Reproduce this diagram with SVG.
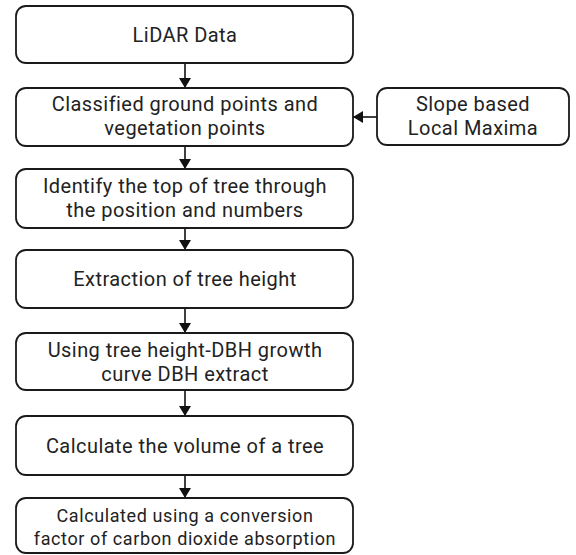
<svg xmlns="http://www.w3.org/2000/svg" width="576" height="555" viewBox="0 0 576 555">
  <style>
    .box { fill: #ffffff; stroke: #1a1a1a; stroke-width: 1.8; }
    .lbl { font-family: Roboto, "Noto Sans", sans-serif; font-size: 20px; letter-spacing: 0.45px; fill: #222222; text-anchor: middle; }
    .sm { font-size: 18px; letter-spacing: 0.6px; }
    .edge { stroke: #111111; stroke-width: 1.6; fill: none; marker-end: url(#head); }
  </style>
  <defs>
    <marker id="head" viewBox="0 0 10 12" refX="10" refY="6" markerWidth="10" markerHeight="12" markerUnits="userSpaceOnUse" orient="auto">
      <path d="M0,0 L10,6 L0,12 Z" fill="#111111"/>
    </marker>
  </defs>
  <rect width="576" height="555" fill="#ffffff"/>

  <g id="connectors">
    <line class="edge" x1="185" y1="63" x2="185" y2="88"/>
    <line class="edge" x1="185" y1="146" x2="185" y2="169"/>
    <line class="edge" x1="185" y1="228" x2="185" y2="250"/>
    <line class="edge" x1="185" y1="308" x2="185" y2="333"/>
    <line class="edge" x1="185" y1="390" x2="185" y2="416"/>
    <line class="edge" x1="185" y1="475" x2="185" y2="498"/>
    <line class="edge" x1="377" y1="117" x2="353" y2="117"/>
  </g>

  <g id="lidar-data">
    <rect class="box" x="16" y="6" width="337" height="57" rx="10"/>
    <text class="lbl" x="185" y="42">LiDAR Data</text>
  </g>

  <g id="classified-points">
    <rect class="box" x="16" y="88" width="337" height="58" rx="10"/>
    <text class="lbl" x="185" y="111">Classified ground points and</text>
    <text class="lbl" x="185" y="135">vegetation points</text>
  </g>

  <g id="slope-local-maxima">
    <rect class="box" x="377" y="88" width="192" height="57" rx="10"/>
    <text class="lbl" x="473" y="111">Slope based</text>
    <text class="lbl" x="473" y="135">Local Maxima</text>
  </g>

  <g id="tree-top">
    <rect class="box" x="16" y="169" width="337" height="59" rx="10"/>
    <text class="lbl" x="185" y="193">Identify the top of tree through</text>
    <text class="lbl" x="185" y="217">the position and numbers</text>
  </g>

  <g id="tree-height">
    <rect class="box" x="16" y="250" width="337" height="58" rx="10"/>
    <text class="lbl" x="185" y="286">Extraction of tree height</text>
  </g>

  <g id="dbh-extract">
    <rect class="box" x="16" y="333" width="337" height="57" rx="10"/>
    <text class="lbl" x="185" y="357">Using tree height-DBH growth</text>
    <text class="lbl" x="185" y="381">curve DBH extract</text>
  </g>

  <g id="tree-volume">
    <rect class="box" x="16" y="416" width="337" height="59" rx="10"/>
    <text class="lbl" x="185" y="453">Calculate the volume of a tree</text>
  </g>

  <g id="carbon-absorption">
    <rect class="box" x="16" y="498" width="337" height="55" rx="10"/>
    <text class="lbl sm" x="185" y="522">Calculated using a conversion</text>
    <text class="lbl sm" x="185" y="545">factor of carbon dioxide absorption</text>
  </g>
</svg>
